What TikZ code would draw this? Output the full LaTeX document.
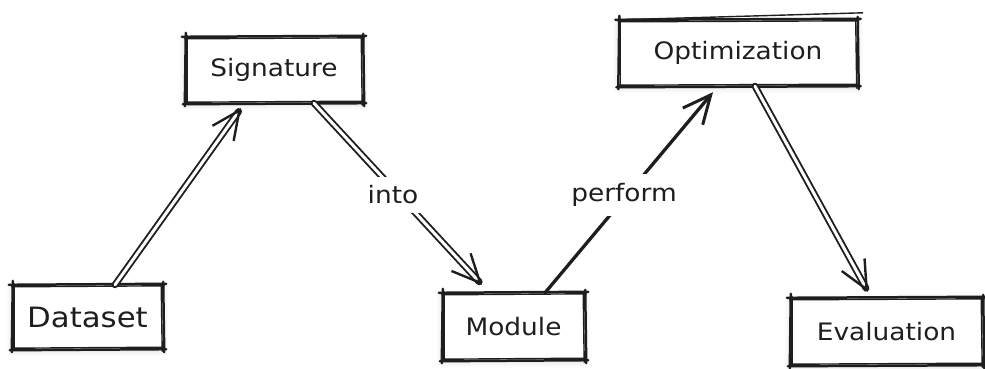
\documentclass[tikz,border=0pt]{standalone}
\usepackage{fontspec}
\setmainfont{DejaVu Sans}[FakeStretch=1.1]
\usetikzlibrary{arrows.meta,calc,shadows.blur}
\definecolor{ink}{HTML}{1E1E1E}

% hand-drawn rectangle around a node: each side drawn twice, slightly off
\newcommand\sketchbox[1]{%
  \draw[edge]  ([shift={(-3,0)}]#1.north west) -- ([shift={(3,-1)}]#1.north east);
  \draw[edgeb] ([shift={(0,2)}]#1.north west)  -- ([shift={(1,1)}]#1.north east);
  \draw[edge]  ([shift={(0,-3)}]#1.north east) -- ([shift={(1,3)}]#1.south east);
  \draw[edgeb] ([shift={(-2,-1)}]#1.north east) -- ([shift={(-1,2)}]#1.south east);
  \draw[edge]  ([shift={(3,0)}]#1.south east) -- ([shift={(-2,1)}]#1.south west);
  \draw[edgeb] ([shift={(1,-2)}]#1.south east) -- ([shift={(0,-1)}]#1.south west);
  \draw[edge]  ([shift={(0,3)}]#1.south west) -- ([shift={(1,-4)}]#1.north west);
  \draw[edgeb] ([shift={(2,1)}]#1.south west) -- ([shift={(2,-1)}]#1.north west);
}

\begin{document}
\begin{tikzpicture}[x=1pt, y=-1pt, line cap=round, line join=round,
  lbl/.style={text=ink, font=\fontsize{24}{26}\selectfont, inner sep=0pt},
  box/.style={lbl, fill=white,
    blur shadow={shadow xshift=0pt, shadow yshift=-2pt,
                 shadow blur radius=6pt, shadow opacity=14}},
  edge/.style={draw=ink, line width=2.5pt},
  edgeb/.style={draw=ink, line width=1.4pt},
  dbl/.style={draw=ink, line width=1.9pt, double=white, double distance=3pt,
    -{Straight Barb[length=28pt, width=26pt, line width=2.4pt]}},
  sgl/.style={draw=ink, line width=3.3pt,
    -{Straight Barb[length=28pt, width=26pt, line width=3pt]}},
  gap/.style={lbl, fill=white, inner xsep=4pt, inner ysep=9pt}]

\useasboundingbox (0,0) rectangle (985,369);

% boxes
\node[box, minimum width=151pt, minimum height=64pt,
      font=\fontsize{28}{30}\selectfont] (dataset) at (87.5,317) {Dataset};
\node[box, minimum width=178pt, minimum height=66pt] (signature) at (274,70) {Signature};
\node[box, minimum width=143pt, minimum height=67pt] (module) at (513.5,326.5) {Module};
\node[box, minimum width=239pt, minimum height=66pt] (optim) at (738,53) {Optimization};
\node[box, minimum width=193pt, minimum height=67pt] (evaluation) at (886.5,331.5) {Evaluation};

\sketchbox{dataset}
\sketchbox{signature}
\sketchbox{module}
\sketchbox{optim}
\sketchbox{evaluation}
% long overshooting stroke on top of the optimisation box
\draw[edgeb] ([shift={(2,0)}]optim.north west) -- ([shift={(5,-7)}]optim.north east);

% connectors
\draw[dbl] ([xshift=27.5]dataset.north) -- ([shift={(-33,5)}]signature.south);
\draw[dbl] ([xshift=40]signature.south) -- ([shift={(-31.5,-8)}]module.north);
\draw[sgl] ([xshift=31.5]module.north) -- ([shift={(-25,6)}]optim.south);
\draw[dbl] ([xshift=17]optim.south) -- ([shift={(-18.5,-6)}]evaluation.north);

% labels sitting in gaps of their connectors
\node[gap] (into) at (393,195) {into};
\node[gap] (perform) at (624,195) {perform};
\end{tikzpicture}
\end{document}
